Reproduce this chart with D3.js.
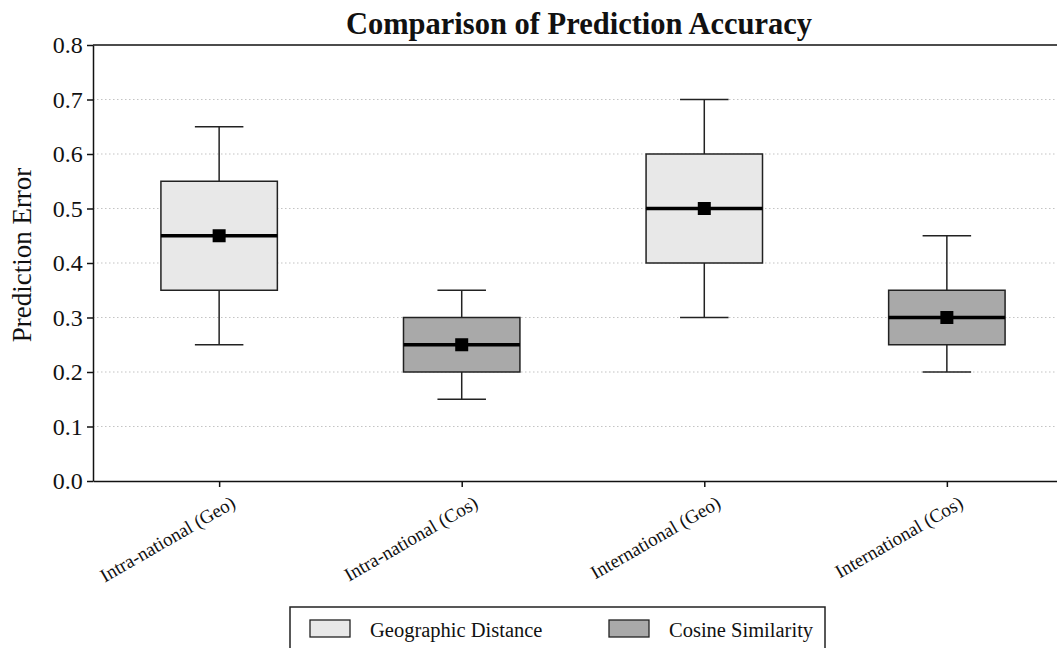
<!DOCTYPE html>
<html>
<head>
<meta charset="utf-8">
<script src="https://cdn.jsdelivr.net/npm/d3@7"></script>
<style>
  body { margin: 0; background: #fff; }
  svg { display: block; font-family: "Liberation Serif", "Times New Roman", serif; }
</style>
</head>
<body>
<svg width="1057" height="648"></svg>
<script>
// chart data
const categories = ["Intra-national (Geo)", "Intra-national (Cos)", "International (Geo)", "International (Cos)"];
const groups = ["geo", "cos", "geo", "cos"];
const mins = [0.25, 0.15, 0.30, 0.20];
const q1s = [0.35, 0.20, 0.40, 0.25];
const medians = [0.45, 0.25, 0.50, 0.30];
const q3s = [0.55, 0.30, 0.60, 0.35];
const maxs = [0.65, 0.35, 0.70, 0.45];
const means = [0.45, 0.25, 0.50, 0.30];
const yTicks = [0.0, 0.1, 0.2, 0.3, 0.4, 0.5, 0.6, 0.7, 0.8];
const legendLabels = ["Geographic Distance", "Cosine Similarity"];

const fills = { geo: "#e8e8e8", cos: "#a9a9a9" };
const serif = '"Liberation Serif", "Times New Roman", serif';

const svg = d3.select("svg");
const mLeft = 93, mRight = 1073, mTop = 45, mBottom = 481;

const x = d3.scalePoint()
    .domain(categories)
    .range([mLeft, mRight])
    .padding(0.52);

const y = d3.scaleLinear()
    .domain([0, 0.8])
    .range([mBottom, mTop]);

const step = x.step();
const boxW = step * 0.48;
const capW = step * 0.2;

// dotted grid
svg.append("g")
  .selectAll("line")
  .data(yTicks.filter(d => d > 0 && d < 0.8))
  .enter().append("line")
    .attr("x1", mLeft).attr("x2", mRight)
    .attr("y1", d => y(d)).attr("y2", d => y(d))
    .attr("stroke", "#c4c4c4")
    .attr("stroke-width", 1.2)
    .attr("stroke-dasharray", "1.5,2.5");

// boxes
const data = categories.map((c, i) => ({
  cat: c, group: groups[i], min: mins[i], q1: q1s[i], med: medians[i], q3: q3s[i], max: maxs[i], mean: means[i]
}));

const box = svg.append("g").selectAll("g")
  .data(data)
  .enter().append("g");

// whiskers
box.append("line")
    .attr("x1", d => x(d.cat)).attr("x2", d => x(d.cat))
    .attr("y1", d => y(d.max)).attr("y2", d => y(d.q3))
    .attr("stroke", "#222").attr("stroke-width", 1.5);
box.append("line")
    .attr("x1", d => x(d.cat)).attr("x2", d => x(d.cat))
    .attr("y1", d => y(d.q1)).attr("y2", d => y(d.min))
    .attr("stroke", "#222").attr("stroke-width", 1.5);
// caps
box.selectAll(".cap")
  .data(d => [{cat: d.cat, v: d.min}, {cat: d.cat, v: d.max}])
  .enter().append("line")
    .attr("class", "cap")
    .attr("x1", d => x(d.cat) - capW / 2).attr("x2", d => x(d.cat) + capW / 2)
    .attr("y1", d => y(d.v)).attr("y2", d => y(d.v))
    .attr("stroke", "#222").attr("stroke-width", 1.5);

box.append("rect")
    .attr("x", d => x(d.cat) - boxW / 2)
    .attr("width", boxW)
    .attr("y", d => y(d.q3))
    .attr("height", d => y(d.q1) - y(d.q3))
    .attr("fill", d => fills[d.group])
    .attr("stroke", "#222")
    .attr("stroke-width", 1.5);

// median
box.append("line")
    .attr("x1", d => x(d.cat) - boxW / 2).attr("x2", d => x(d.cat) + boxW / 2)
    .attr("y1", d => y(d.med)).attr("y2", d => y(d.med))
    .attr("stroke", "#000").attr("stroke-width", 3.5);

// mean marker
box.append("rect")
    .attr("x", d => x(d.cat) - 6.5).attr("y", d => y(d.mean) - 6.5)
    .attr("width", 13).attr("height", 13)
    .attr("fill", "#000");

// axes
const yAxis = svg.append("g")
    .attr("transform", `translate(${mLeft},0)`)
    .call(d3.axisLeft(y).tickValues(yTicks).tickFormat(d3.format(".1f")).tickSize(6).tickSizeOuter(0));
yAxis.attr("font-family", serif);
yAxis.selectAll("text").attr("font-size", 24).attr("fill", "#111").attr("dx", "-0.05em");

const xAxis = svg.append("g")
    .attr("transform", `translate(0,${mBottom})`)
    .call(d3.axisBottom(x).tickSize(6).tickSizeOuter(0));
xAxis.attr("font-family", serif);
xAxis.selectAll("text")
    .attr("font-size", 19)
    .attr("fill", "#111")
    .attr("text-anchor", "end")
    .attr("transform", "translate(7,8) rotate(-30)")
    .attr("dy", "0.75em")
    .attr("y", 6);

svg.selectAll(".domain").attr("stroke", "#111").attr("stroke-width", 1.5);
svg.selectAll(".tick line").attr("stroke", "#111").attr("stroke-width", 1.5);

// top and right spines
svg.append("line")
    .attr("x1", mLeft).attr("x2", mRight)
    .attr("y1", mTop).attr("y2", mTop)
    .attr("stroke", "#111").attr("stroke-width", 1.5);
svg.append("line")
    .attr("x1", mRight).attr("x2", mRight)
    .attr("y1", mTop).attr("y2", mBottom)
    .attr("stroke", "#111").attr("stroke-width", 1.5);

// title
svg.append("text")
    .attr("x", (mLeft + 1065) / 2)
    .attr("y", 34)
    .attr("text-anchor", "middle")
    .attr("font-size", 30.5)
    .attr("font-weight", "bold")
    .attr("fill", "#111")
    .text("Comparison of Prediction Accuracy");

// y label
svg.append("text")
    .attr("transform", `translate(31,${(168 + 342) / 2}) rotate(-90)`)
    .attr("text-anchor", "middle")
    .attr("font-size", 27)
    .attr("fill", "#111")
    .text("Prediction Error");

// legend
const legend = svg.append("g");
legend.append("rect")
    .attr("x", 290).attr("y", 607)
    .attr("width", 535).attr("height", 60)
    .attr("fill", "#fff")
    .attr("stroke", "#222").attr("stroke-width", 1.5);
const legX = [310, 609];
legendLabels.forEach((lab, i) => {
  legend.append("rect")
    .attr("x", legX[i]).attr("y", 620)
    .attr("width", 40).attr("height", 17)
    .attr("fill", fills[i === 0 ? "geo" : "cos"])
    .attr("stroke", "#222").attr("stroke-width", 1.3);
  legend.append("text")
    .attr("x", legX[i] + 60).attr("y", 637)
    .attr("font-size", 20.5)
    .attr("fill", "#111")
    .text(lab);
});
</script>
</body>
</html>
